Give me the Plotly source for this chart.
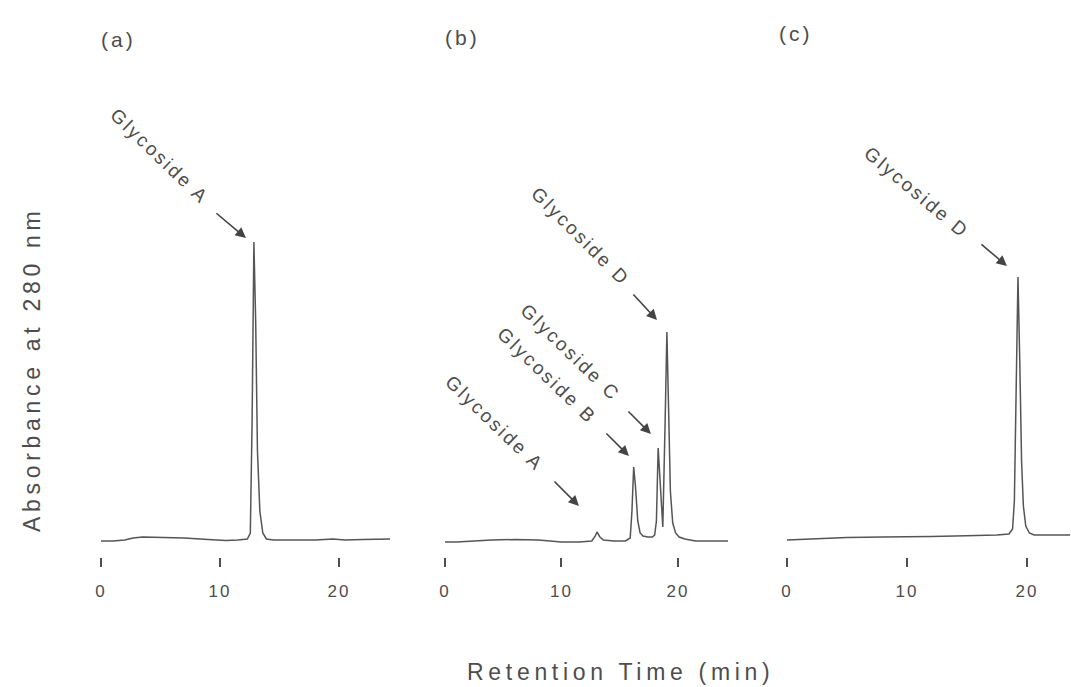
import plotly.graph_objects as go

# ---------------- data ----------------
time_a = [0, 1, 2, 2.7, 3.5, 5, 7, 9, 10.5, 11.5, 12.3, 12.55, 12.7, 12.85, 13.0, 13.15,
          13.35, 13.6, 13.9, 14.5, 16, 18, 19.5, 20.5, 22, 24.3]
abs_a = [0, 0, 1, 3, 4, 3.5, 3, 1.5, 0.5, 1, 2, 8, 120, 299, 220, 90,
         30, 8, 2, 1, 1, 1, 2, 1, 1.5, 2]

time_b = [0, 1, 2.5, 4, 6, 8, 10, 11.5, 12.6, 12.9, 13.05, 13.3, 13.6, 14.5, 15.5, 15.9,
          16.05, 16.2, 16.35, 16.55, 16.75, 17.0, 17.4, 17.8, 18.0, 18.15, 18.3, 18.45,
          18.6, 18.7, 18.9, 19.05, 19.2, 19.35, 19.55, 19.8, 20.1, 20.6, 21.5, 23, 24.3]
abs_b = [-1, -1, 0, 1, 1.5, 1, -1, -1, 0, 5, 9, 4, 1, 0, 0, 3,
         30, 74, 55, 20, 8, 5, 4, 4, 6, 20, 93, 60,
         25, 14, 120, 209, 130, 50, 18, 8, 4, 2, 0, 0, 0]

time_c = [0, 2, 3, 5, 8, 10, 12, 14, 16, 17.5, 18.5, 18.8, 18.95, 19.1, 19.25, 19.4,
          19.55, 19.7, 19.9, 20.2, 20.6, 21, 22, 23.6]
abs_c = [1, 2, 3, 3.5, 4, 4, 4.5, 5, 5.5, 6, 7, 12, 40, 150, 264, 180,
         80, 35, 15, 8, 6, 6, 6, 6]

tick_vals = [0, 10, 20]
tick_text = ["0", "10", "20"]
panel_labels = ["(a)", "(b)", "(c)"]

# peak annotations: (panel, label, tip time, tip absorbance)
peak_panels = [1, 2, 2, 2, 2, 3]
peak_names = ["Glycoside A", "Glycoside D", "Glycoside C", "Glycoside B", "Glycoside A", "Glycoside D"]
peak_tip_t = [12.18, 18.2, 17.68, 15.79, 11.5, 18.33]
peak_tip_y = [303, 221, 107, 85, 35, 275]
label_t = [4.96, 11.67, 10.8, 8.76, 4.29, 10.83]
label_y = [385, 305, 189, 166, 118, 349]
label_angle = [44, 45, 44, 44, 44, 40]
arrow_ax = [-31, -25, -24, -24, -26, -27]
arrow_ay = [-26, -27, -24, -24, -26, -23]

# ---------------- styling ----------------
W, H = 1071, 687
INK = "#4d4d4d"
LINE = "#555555"
FONT = "Liberation Sans, Arial, sans-serif"


def spaced(text, px):
    return f'<span style="letter-spacing:{px}px">{text}</span>'


def px_dom(p0, p1):
    return [p0 / W, p1 / W]


fig = go.Figure()
series = [(time_a, abs_a), (time_b, abs_b), (time_c, abs_c)]
for i, (t, a) in enumerate(series):
    suffix = "" if i == 0 else str(i + 1)
    fig.add_trace(go.Scatter(x=t, y=a, mode="lines", xaxis="x" + suffix, yaxis="y" + suffix,
                             line=dict(color=LINE, width=1.5), showlegend=False,
                             hoverinfo="skip"))

# axis geometry: (pixel domain, data range)
x_geo = [((95, 395), [-0.504, 24.71]),
         ((439, 732), [-0.515, 24.64]),
         ((781, 1071), [-0.5, 23.67])]
y_dom = [(H - 557) / H, (H - 20) / H]
y_rng = [-16, 521]

layout = dict(width=W, height=H, margin=dict(l=0, r=0, t=0, b=0),
              paper_bgcolor="white", plot_bgcolor="white", showlegend=False)
for i, (dom, rng) in enumerate(x_geo):
    suffix = "" if i == 0 else str(i + 1)
    layout["xaxis" + suffix] = dict(
        domain=px_dom(*dom), range=rng, anchor="y" + suffix,
        showgrid=False, zeroline=False, showline=False,
        tickmode="array", tickvals=tick_vals,
        ticktext=[spaced(s, 2) for s in tick_text],
        ticks="outside", ticklen=9, tickwidth=1.5, tickcolor=INK,
        ticklabelstandoff=10,
        tickfont=dict(family=FONT, size=17, color=INK), fixedrange=True)
    layout["yaxis" + suffix] = dict(
        domain=y_dom, range=y_rng, anchor="x" + suffix, visible=False, fixedrange=True)
fig.update_layout(**layout)

ann = []
# peak labels and arrows
for p, name, tt, ty, lt, ly, ang, ax, ay in zip(peak_panels, peak_names, peak_tip_t, peak_tip_y,
                                                 label_t, label_y, label_angle, arrow_ax, arrow_ay):
    suffix = "" if p == 1 else str(p)
    ann.append(dict(x=lt, y=ly, xref="x" + suffix, yref="y" + suffix, showarrow=False,
                    text=spaced(name, 2.5), textangle=ang,
                    font=dict(family=FONT, size=19, color=INK),
                    xanchor="center", yanchor="middle"))
    ann.append(dict(x=tt, y=ty, xref="x" + suffix, yref="y" + suffix, text="",
                    showarrow=True, ax=ax, ay=ay, arrowhead=2, arrowsize=1.3,
                    arrowwidth=1.6, arrowcolor="#444444"))

# panel labels
panel_pos = [(118, 40), (462, 37), (796, 33)]
for lab, (px, py) in zip(panel_labels, panel_pos):
    ann.append(dict(x=px / W, y=1 - py / H, xref="paper", yref="paper", showarrow=False,
                    text=spaced(lab, 3), font=dict(family=FONT, size=21, color=INK),
                    xanchor="center", yanchor="middle"))

# axis titles
ann.append(dict(x=32 / W, y=1 - 370 / H, xref="paper", yref="paper", showarrow=False,
                text=spaced("Absorbance at 280 nm", 4.7), textangle=-90,
                font=dict(family=FONT, size=23, color=INK),
                xanchor="center", yanchor="middle"))
ann.append(dict(x=620 / W, y=1 - 672 / H, xref="paper", yref="paper", showarrow=False,
                text=spaced("Retention Time (min)", 4.7),
                font=dict(family=FONT, size=23, color=INK),
                xanchor="center", yanchor="middle"))

fig.update_layout(annotations=ann)
fig.write_html("out.html", config={"displayModeBar": False},
               post_script="document.body.style.margin='0';")
